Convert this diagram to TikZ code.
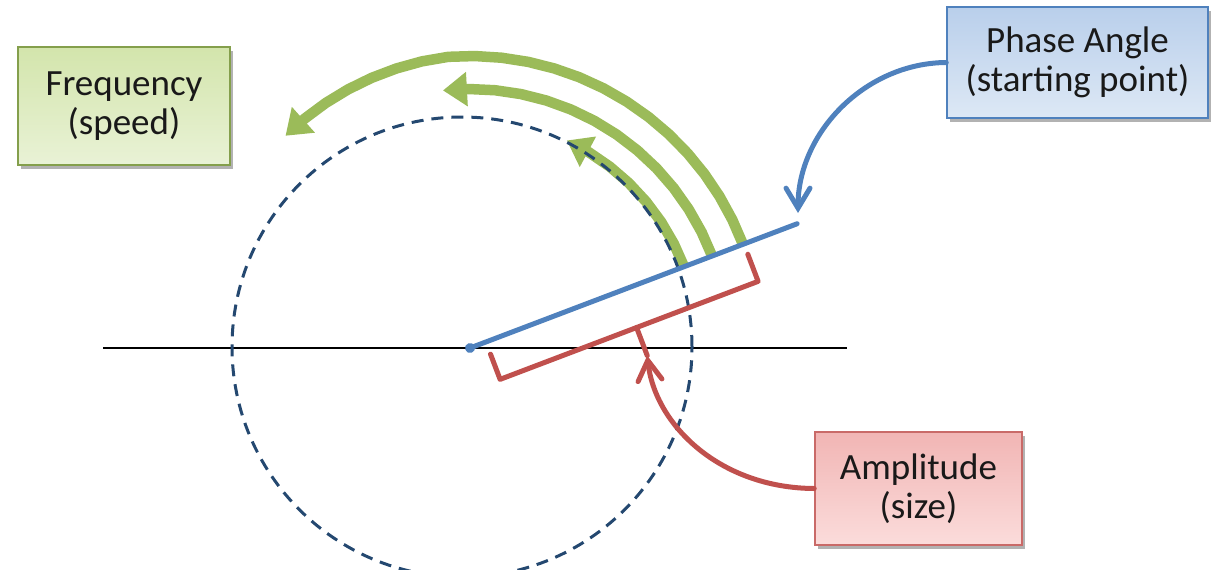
\documentclass[tikz,border=0pt]{standalone}
\usepackage{fontspec}
\setmainfont{Carlito}
\usetikzlibrary{arrows.meta,shadows,calc}
\definecolor{grn}{HTML}{9BBB59}
\definecolor{blu}{HTML}{4F81BD}
\definecolor{rd}{HTML}{C0504D}
\definecolor{navy}{HTML}{244870}
\definecolor{frtop}{HTML}{D3E5AC}
\definecolor{frbot}{HTML}{E9F2D6}
\definecolor{phtop}{HTML}{B9CFEB}
\definecolor{phbot}{HTML}{DDE8F5}
\definecolor{amtop}{HTML}{F1B5B4}
\definecolor{ambot}{HTML}{FBDCDB}
\begin{document}
\begin{tikzpicture}[x=1pt,y=-1pt,
  labelbox/.style={rectangle, line width=1.5pt, align=center, inner sep=0pt,
    font=\fontsize{37}{39}\selectfont, text=black!90,
    drop shadow={shadow xshift=2.5pt, shadow yshift=-3.5pt, opacity=0.3, fill=black}},
  greenarc/.style={grn, line width=10.5pt, -{Triangle[length=24pt,width=33pt]}},
  thinarrow/.style={line width=5pt, line cap=round, -{Straight Barb[length=20pt,width=24pt,line cap=round]}},
  axis/.style={line width=2.6pt, black},
  dashcircle/.style={navy, line width=3pt, dash pattern=on 12pt off 8pt}]
\useasboundingbox (0,0) rectangle (1212,574);

% boxes
\node[labelbox, draw=grn!85!black, top color=frtop, bottom color=frbot,
  minimum width=212pt, minimum height=118pt] (freq) at (124,106) {Frequency\\(speed)};
\node[labelbox, draw=blu, top color=phtop, bottom color=phbot,
  minimum width=261pt, minimum height=111pt] (phase) at (1077.5,62.5) {Phase Angle\\(starting point)};
\node[labelbox, draw=rd!85, top color=amtop, bottom color=ambot,
  minimum width=207pt, minimum height=113pt] (amp) at (918.5,488.5) {Amplitude\\(size)};

% horizontal axis
\coordinate (axl) at (103,348);
\coordinate (axr) at (847,348);
\draw[axis] (axl) -- (axr);

% green frequency arcs
\draw[greenarc] plot[domain=20.8:65, samples=8] ({470+229*cos(\x)},{348-229*sin(\x)});
\draw[greenarc] plot[domain=20.8:96, samples=14] ({470+259*cos(\x)},{348-259*sin(\x)});
\draw[greenarc] plot[domain=20.8:131, samples=22]
  ({470+(292-0.3*max(0,\x-95))*cos(\x)},{348-(292-0.3*max(0,\x-95))*sin(\x)});

% dashed circle
\begin{scope}
  \clip (0,0) rectangle (1212,569);
  \coordinate (cc) at (462,347);
  \draw[dashcircle] (cc) circle[radius=230pt];
\end{scope}

% phase vector and amplitude brace
\begin{scope}[shift={(470,348)}, rotate=20.8]
  \coordinate (origin) at (0,0);
  \coordinate (vend) at (350,0);
  \draw[blu, line width=5pt, line cap=round] (origin) -- (vend);
  \fill[blu] (origin) circle[radius=5pt];
  \draw[rd, line width=5pt, line join=round, line cap=round]
    (17,13) -- (17,40) -- (293,40) -- (293,11);
  \coordinate (bracemid) at (163,40);
  \coordinate (bracetip) at (163,70);
  \draw[rd, line width=5pt, line cap=round] (bracemid) -- (bracetip);
\end{scope}

% pointer arrows
\coordinate (phasetip) at (798,213);
\draw[thinarrow, blu] (phase.west) .. controls (866,63) and (798,132) .. (phasetip);
\draw[thinarrow, rd] (amp.west) .. controls (720,488) and (655,425) .. (bracetip);
\end{tikzpicture}
\end{document}
